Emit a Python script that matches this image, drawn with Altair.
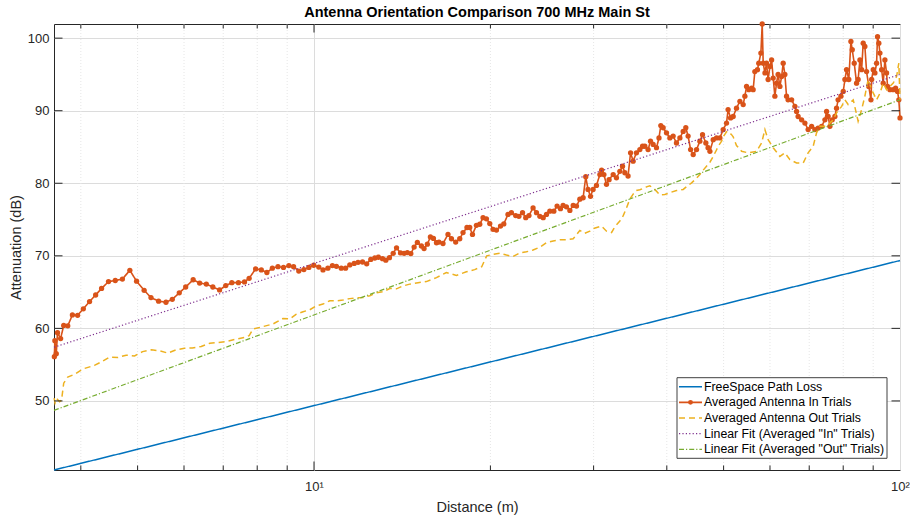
import altair as alt
import pandas as pd

# ---- measured series -------------------------------------------------------
in_dist = [
    3.605, 3.612, 3.632, 3.650, 3.695, 3.740, 3.800, 3.870, 3.950, 4.040,
    4.140, 4.240, 4.340, 4.460, 4.580, 4.710, 4.850, 4.980, 5.130, 5.270,
    5.430, 5.590, 5.730, 5.890, 6.040, 6.220, 6.380, 6.550, 6.720, 6.900,
    7.070, 7.240, 7.430, 7.610, 7.750,
    7.950, 8.130, 8.310, 8.490, 8.680, 8.870, 9.060, 9.230, 9.420, 9.610,
    9.800, 9.990, 10.19, 10.36, 10.56, 10.75, 10.92, 11.13, 11.32, 11.51,
    11.71, 11.89, 12.10, 12.30, 12.50, 12.70, 12.88, 13.09, 13.26, 13.45,
    13.65, 13.83, 14.05, 14.25, 14.43, 14.63, 14.82, 15.01, 15.25, 15.41,
    15.61, 15.80, 15.99, 16.18, 16.34,
    16.60, 16.93, 17.16, 17.45, 17.73, 17.96, 18.24, 18.44, 18.64, 18.93,
    19.18, 19.43, 19.69, 19.95, 20.21, 20.48, 20.81, 21.08, 21.43, 21.72,
    22.09, 22.37, 22.69, 22.98, 23.27, 23.65, 23.97, 24.29, 24.61, 24.93,
    25.26, 25.66, 25.99, 26.34, 26.61, 26.96, 27.33, 27.69, 28.05, 28.42,
    28.79, 29.09, 29.35, 29.64, 29.94, 30.34, 30.75, 30.96, 31.24, 31.56,
    31.88,
    32.40, 32.82, 33.26, 33.61, 33.92, 34.35, 34.69, 35.04, 35.50, 35.98,
    36.36, 36.69, 37.16, 37.52, 37.91, 38.41, 38.79, 39.07, 39.43, 39.95,
    40.48, 41.01, 41.55, 42.11, 42.66, 43.10, 43.49, 43.92, 44.37, 44.96,
    45.55, 46.03, 46.63, 47.04, 47.38, 48.00, 48.63, 49.28, 49.92, 50.58,
    50.89, 51.39, 51.92, 52.60, 53.31, 54.00,
    54.36, 54.72, 55.20, 55.81, 56.16, 56.53, 57.12, 57.41, 57.89, 58.19,
    58.42, 58.81, 59.19, 59.56, 59.98, 60.38, 60.76, 61.16, 61.56, 61.94,
    62.38, 62.80, 63.19, 63.61, 64.03, 64.42, 65.32, 66.17, 66.60, 67.01,
    67.94, 68.82, 69.70, 70.66, 71.57, 72.49, 73.50, 74.45, 74.94, 75.40,
    75.93, 76.62, 77.43, 77.93, 78.41, 79.29, 80.01, 80.54, 81.06, 81.78,
    82.46, 82.89, 83.54, 84.31, 84.83, 85.43, 86.00, 86.54, 87.11, 87.69,
    88.46, 89.21, 89.46, 90.02, 90.61, 91.21, 91.55, 92.02, 92.42, 93.04,
    93.62, 94.24, 94.86, 95.22, 96.13, 97.38, 98.28, 99.04, 99.54, 100.0,
]
in_db = [
    56.1, 58.3, 56.5, 59.4, 58.6, 60.4, 60.35, 61.85, 61.8, 62.7,
    63.7, 64.6, 65.5, 66.45, 66.6, 66.8, 68.0, 66.5, 65.25, 64.25,
    63.75, 63.6, 64.0, 64.9, 65.7, 66.7, 66.25, 66.1, 65.7, 65.3,
    65.9, 66.3, 66.3, 66.4, 66.9,
    68.2, 68.05, 67.7, 68.3, 68.5, 68.4, 68.65, 68.5, 67.9, 68.1,
    68.4, 68.7, 68.45, 68.05, 68.3, 68.65, 68.55, 68.3, 68.3, 68.75,
    68.95, 69.1, 69.15, 68.9, 69.5, 69.7, 69.8, 69.6, 69.4, 69.75,
    70.35, 71.1, 70.4, 70.35, 70.45, 70.3, 71.2, 71.85, 71.35, 71.0,
    71.6, 72.6, 72.4, 71.8, 71.9,
    71.7, 72.95, 72.35, 71.9, 72.35, 73.2, 73.9, 73.9, 72.95, 74.2,
    74.35, 75.25, 75.1, 74.45, 73.65, 73.55, 74.1, 74.4, 75.7, 75.95,
    75.55, 75.45, 75.95, 75.25, 75.55, 76.6, 75.95, 75.45, 75.25, 75.7,
    76.15, 76.15, 76.85, 76.5, 76.95, 76.75, 76.25, 76.95, 76.85, 77.8,
    78.0, 80.9, 79.15, 78.2, 79.15, 79.7, 81.2, 81.8, 81.2, 79.85,
    80.5,
    81.2, 80.75, 81.65, 82.35, 81.45, 81.0, 84.2, 83.05, 84.2, 84.65,
    85.1, 85.1, 84.65, 85.8, 85.35, 84.9, 86.25, 87.95, 87.65, 86.95,
    86.25, 86.5, 85.55, 86.25, 87.15, 87.65, 86.5, 84.65, 83.95, 84.65,
    85.8, 86.7, 85.55, 84.9, 84.4, 86.0, 86.25, 86.25, 87.4, 88.3,
    90.15, 89.0, 89.2, 90.35, 91.3, 90.85,
    92.0, 93.35, 92.9, 93.1, 92.9, 95.4, 95.65, 96.55, 97.95, 101.95,
    96.55, 95.2, 96.55, 94.3, 96.1, 97.0, 94.5, 92.0, 93.8, 95.0,
    93.35, 94.7, 96.55, 95.0, 92.0, 91.5, 91.5, 90.6, 89.9, 89.2,
    88.75, 88.3, 87.4, 87.85, 87.4, 87.6, 87.85, 88.75, 89.9, 89.2,
    87.85, 88.75, 89.2, 90.35, 91.5, 92.0, 92.65, 94.3, 95.65, 94.3,
    99.55, 98.4, 96.55, 93.8, 94.3, 97.0, 95.65, 99.3, 98.85, 95.4,
    93.35, 91.5, 94.3, 95.65, 95.2, 96.55, 100.2, 99.3, 97.95, 95.65,
    93.8, 97.0, 95.2, 93.35, 92.9, 92.9, 93.1, 92.65, 91.5, 89.0,
]

out_dist = [
    3.601, 3.615, 3.640, 3.680, 3.708, 3.740, 3.800, 3.910, 4.030, 4.220,
    4.340, 4.480, 4.630, 4.780, 4.940, 5.100, 5.280, 5.450, 5.630, 5.820,
    6.010, 6.200, 6.420, 6.640, 6.860, 7.100, 7.350, 7.610, 7.750, 7.870,
    8.510, 8.850, 9.090, 9.330, 9.580, 9.830, 10.09, 10.36, 10.64, 10.92,
    11.20, 11.51, 11.81, 12.13, 12.45, 12.78, 13.12, 13.47, 13.83, 14.19,
    14.57, 15.05, 15.55, 16.18, 16.82, 17.50, 18.20, 18.80, 19.33, 19.71,
    20.21, 20.75, 21.30, 21.86, 22.45, 23.04, 23.65, 24.29, 24.93, 25.59,
    26.27, 26.96, 27.69, 28.42, 28.98, 29.56, 29.94, 30.38, 30.96, 31.56,
    32.19, 32.61, 33.26, 33.69, 34.14, 34.59, 35.04, 35.50, 35.98, 36.45,
    36.93, 37.42, 38.16, 38.92, 39.69, 40.48, 41.55, 42.66, 43.35, 44.09,
    44.96, 45.55, 46.14, 46.75, 47.38, 48.00, 48.63, 48.95, 49.61, 49.92,
    50.58, 50.89, 51.59, 51.92, 52.60, 53.67, 55.05, 56.90, 58.06, 58.81,
    59.56, 60.76, 62.38, 63.61, 64.89, 66.60, 68.37, 69.70, 71.10, 72.04,
    73.01, 74.94, 76.92, 77.93, 79.51, 80.54, 81.56, 83.21, 84.83, 86.00,
    87.11, 88.22, 89.46, 91.21, 92.42, 93.62, 94.86, 96.13, 97.38, 98.67,
    99.54, 100.0,
]
out_db = [
    50.4, 49.7, 50.3, 49.9, 50.1, 52.45, 53.3, 53.7, 54.4, 54.9,
    55.4, 56.05, 56.0, 56.3, 56.2, 56.8, 57.05, 56.9, 56.6, 57.05,
    57.25, 57.3, 57.5, 57.95, 58.05, 58.2, 58.5, 58.75, 59.0, 59.9,
    60.6, 61.35, 61.3, 61.95, 62.3, 62.55, 63.1, 63.35, 63.8, 63.8,
    63.9, 64.1, 64.2, 64.25, 64.5, 64.9, 65.05, 65.5, 65.45, 65.85,
    66.1, 66.3, 66.45, 67.0, 67.7, 67.3, 67.8, 68.1, 68.5, 70.0,
    70.2, 70.35, 70.1, 69.9, 70.4, 70.55, 70.8, 71.2, 71.8, 72.05,
    72.2, 72.2, 72.35, 73.5, 73.1, 73.4, 73.75, 73.9, 74.1, 73.4,
    73.2, 74.0, 74.8, 75.5, 76.6, 77.8, 78.5, 79.0, 79.1, 79.3,
    79.5, 79.65, 79.15, 78.4, 78.45, 78.7, 79.0, 79.15, 79.6, 80.05,
    80.7, 81.2, 81.8, 82.35, 82.9, 83.7, 84.6, 85.1, 85.8, 86.4,
    87.1, 87.15, 86.7, 86.4, 85.2, 84.4, 84.2, 84.4, 85.55, 87.4,
    86.0, 84.9, 83.7, 84.2, 83.25, 82.8, 82.8, 84.2, 85.1, 86.95,
    87.85, 87.85, 88.75, 89.7, 90.6, 91.5, 90.85, 91.5, 88.55, 90.15,
    92.0, 94.3, 92.9, 91.5, 92.4, 93.8, 92.9, 93.35, 93.8, 94.7,
    96.55, 91.5,
]

# straight lines on the log-distance axis: end points only
fspl_dist = [3.6, 100.0]
fspl_db = [40.48, 69.35]
fit_in_dist = [3.6, 100.0]
fit_in_db = [57.4, 95.0]
fit_out_dist = [3.6, 100.0]
fit_out_db = [48.7, 91.5]

series_names = [
    "FreeSpace Path Loss",
    "Averaged Antenna In Trials",
    "Averaged Antenna Out Trials",
    'Linear Fit (Averaged "In" Trials)',
    'Linear Fit (Averaged "Out" Trials)',
]
series_colors = ["#0072BD", "#D95319", "#EDB120", "#7E2F8E", "#77AC30"]
series_dashes = [[1, 0], [1, 0], [6, 4], [1.2, 2.2], [5, 2, 1.2, 2]]
series_widths = [1.5, 1.6, 1.5, 1.2, 1.2]

x_minor = [4, 5, 6, 7, 8, 9, 20, 30, 40, 50, 60, 70, 80, 90]
x_major = [10]
y_major = [50, 60, 70, 80, 90, 100]

W, H = 846, 446
FONT = "Liberation Sans"
INK = "#262626"


def frame(dist, db, name):
    return pd.DataFrame({"dist": dist, "db": db, "series": name})


x_enc = alt.X(
    "dist:Q",
    title="Distance (m)",
    scale=alt.Scale(type="log", domain=[3.6, 100], nice=False),
    axis=alt.Axis(
        values=[10, 100],
        labelExpr="datum.value == 10 ? '10\u00b9' : '10\u00b2'",
        grid=True, gridColor="#dcdcdc", gridWidth=1,
        ticks=False, domain=False, labelFlush=False, labelOverlap=False,
        labelFont=FONT, labelFontSize=13, labelColor=INK, labelPadding=10,
        titleFont=FONT, titleFontSize=14.5, titleFontWeight="normal",
        titleColor=INK, titlePadding=7,
    ),
)
y_enc = alt.Y(
    "db:Q",
    title="Attenuation (dB)",
    scale=alt.Scale(domain=[40.48, 101.95], nice=False, zero=False),
    axis=alt.Axis(
        values=y_major,
        grid=True, gridColor="#dcdcdc", gridWidth=1,
        ticks=False, domain=False,
        labelFont=FONT, labelFontSize=13, labelColor=INK, labelPadding=5,
        titleFont=FONT, titleFontSize=14.5, titleFontWeight="normal",
        titleColor=INK, titlePadding=4,
    ),
)

color_enc = alt.Color(
    "series:N",
    scale=alt.Scale(domain=series_names, range=series_colors),
    legend=None,
)
dash_enc = alt.StrokeDash(
    "series:N",
    scale=alt.Scale(domain=series_names, range=series_dashes),
    legend=None,
)


def series_line(df, width):
    return alt.Chart(df).mark_line(strokeWidth=width).encode(
        x=x_enc, y=y_enc, color=color_enc, strokeDash=dash_enc
    )


# dotted minor grid on the distance axis
minor_grid = alt.Chart(pd.DataFrame({"dist": x_minor})).mark_rule(
    color="#e6e6e6", strokeWidth=1, strokeDash=[1, 2]
).encode(x=x_enc, y=alt.value(0), y2=alt.value(H))

fspl = series_line(frame(fspl_dist, fspl_db, series_names[0]), series_widths[0])
in_df = frame(in_dist, in_db, series_names[1])
in_line = series_line(in_df, series_widths[1])
in_pts = alt.Chart(in_df).mark_point(
    filled=True, size=28, opacity=1, color=series_colors[1]
).encode(x=x_enc, y=y_enc)
out_line = series_line(frame(out_dist, out_db, series_names[2]), series_widths[2])
fit_in = series_line(frame(fit_in_dist, fit_in_db, series_names[3]), series_widths[3])
fit_out = series_line(frame(fit_out_dist, fit_out_db, series_names[4]), series_widths[4])

# inward-pointing tick marks on all four sides of the box
xminor_df = pd.DataFrame({"dist": x_minor})
xmajor_df = pd.DataFrame({"dist": x_major})
y_df = pd.DataFrame({"db": y_major})
tick = dict(color=INK, strokeWidth=1)
ticks = [
    alt.Chart(xminor_df).mark_rule(**tick).encode(x=x_enc, y=alt.value(H), y2=alt.value(H - 4.5)),
    alt.Chart(xminor_df).mark_rule(**tick).encode(x=x_enc, y=alt.value(0), y2=alt.value(4.5)),
    alt.Chart(xmajor_df).mark_rule(**tick).encode(x=x_enc, y=alt.value(H), y2=alt.value(H - 8.5)),
    alt.Chart(xmajor_df).mark_rule(**tick).encode(x=x_enc, y=alt.value(0), y2=alt.value(8.5)),
    alt.Chart(y_df).mark_rule(**tick).encode(y=y_enc, x=alt.value(0), x2=alt.value(8.5)),
    alt.Chart(y_df).mark_rule(**tick).encode(y=y_enc, x=alt.value(W), x2=alt.value(W - 8.5)),
]

# legend box in the lower-right corner of the axes
one = pd.DataFrame({"k": [0]})
LEG_L, LEG_R, LEG_T, LEG_B = 623, 833, 353.7, 434.3
ROW0, ROW_STEP = 362.7, 15.65
legend_layers = [
    alt.Chart(one).mark_rect(fill="white", stroke="#404040", strokeWidth=1).encode(
        x=alt.value(LEG_L), x2=alt.value(LEG_R), y=alt.value(LEG_T), y2=alt.value(LEG_B)
    )
]
for i, name in enumerate(series_names):
    row_y = ROW0 + ROW_STEP * i
    legend_layers.append(
        alt.Chart(one).mark_rule(
            color=series_colors[i], strokeWidth=series_widths[i],
            strokeDash=series_dashes[i],
        ).encode(x=alt.value(LEG_L + 2), x2=alt.value(LEG_L + 25), y=alt.value(row_y))
    )
    legend_layers.append(
        alt.Chart(one).mark_text(
            text=name, align="left", baseline="middle",
            font=FONT, fontSize=12.3, color="black",
        ).encode(x=alt.value(LEG_L + 27), y=alt.value(row_y))
    )
legend_layers.append(
    alt.Chart(one).mark_point(filled=True, size=24, opacity=1, color=series_colors[1]).encode(
        x=alt.value(LEG_L + 13.5), y=alt.value(ROW0 + ROW_STEP)
    )
)

chart = alt.layer(
    minor_grid, fspl, in_line, in_pts, out_line, fit_in, fit_out, *ticks, *legend_layers
).properties(
    width=W,
    height=H,
    title=alt.TitleParams(
        text="Antenna Orientation Comparison 700 MHz Main St",
        font=FONT, fontSize=14.5, fontWeight="bold", color="black",
        anchor="middle", offset=0,
    ),
    autosize=alt.AutoSizeParams(type="none"),
    padding={"left": 54, "top": 24, "right": 10, "bottom": 47},
    background="white",
).configure_view(stroke=INK, strokeWidth=1)

chart.save("out.html", embed_options={"renderer": "svg", "actions": False})
